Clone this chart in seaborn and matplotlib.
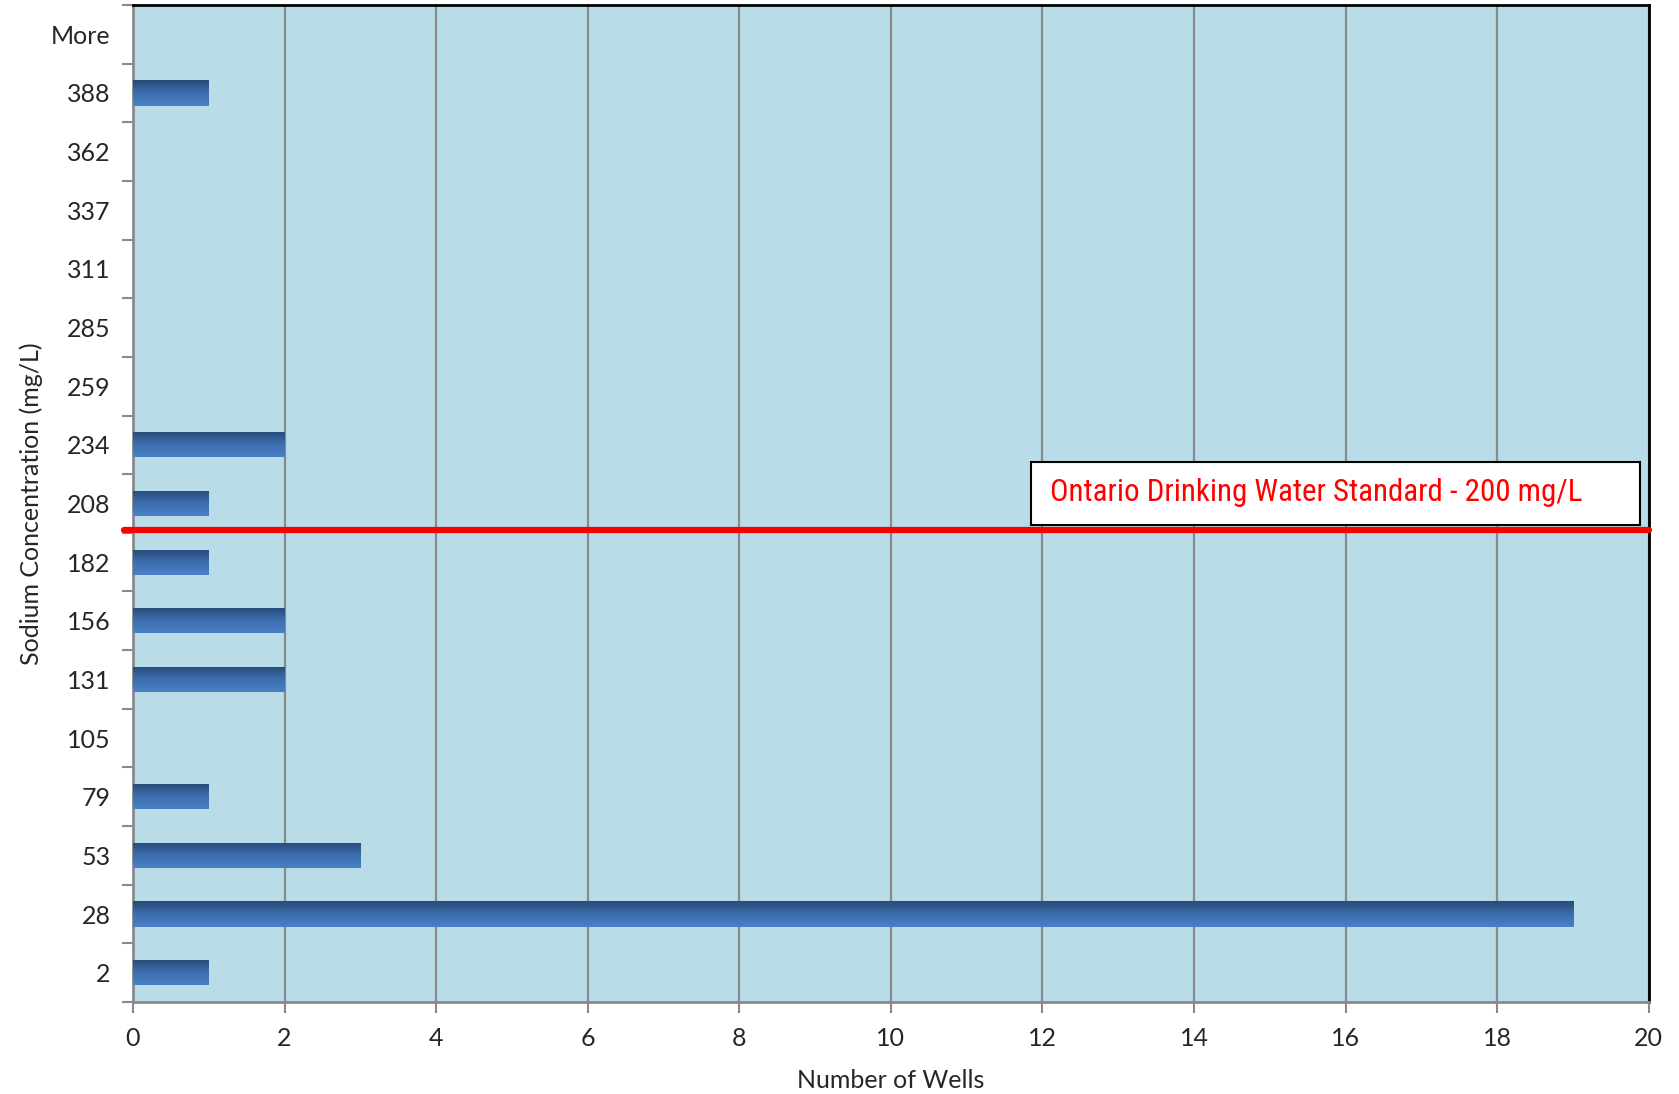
import numpy as np
import pandas as pd
import seaborn as sns
import matplotlib.pyplot as plt
from matplotlib.colors import LinearSegmentedColormap
from matplotlib.patches import Rectangle

# histogram bins (upper edge, mg/L) and well counts
bins = ["2", "28", "53", "79", "105", "131", "156", "182", "208",
        "234", "259", "285", "311", "337", "362", "388", "More"]
wells = [1, 19, 3, 1, 0, 2, 2, 1, 1, 2, 0, 0, 0, 0, 0, 1, 0]
x_ticks = list(range(0, 21, 2))
standard_label = "Ontario Drinking Water Standard - 200 mg/L"

df = pd.DataFrame({"bin": bins, "wells": wells})

sns.set_theme(style="white")
plt.rcParams["font.family"] = ["Lato", "DejaVu Sans"]

fig = plt.figure(figsize=(16.79, 10.94), dpi=100)
ax = fig.add_axes([0.0792, 0.0841, 0.9028, 0.9113])
ax.set_facecolor("#b8dde8")

order = bins[::-1]
sns.barplot(data=df, x="wells", y="bin", order=order, orient="h",
            color="#3a6aa8", width=0.43, ax=ax, zorder=3)

# gradient fill on each bar (dark top -> lighter bottom)
cmap = LinearSegmentedColormap.from_list("bar", ["#284a78", "#3c6eae", "#4a80c6"])
grad = np.linspace(0, 1, 64).reshape(-1, 1)
for p in ax.patches:
    p.set_facecolor("none")
    p.set_edgecolor("none")
    p.set_linewidth(0)
    w = p.get_width()
    if w <= 0:
        continue
    x0, y0 = p.get_x(), p.get_y()
    h = p.get_height()
    im = ax.imshow(grad, cmap=cmap, aspect="auto", zorder=4,
                   extent=[x0, x0 + w, y0 + h, y0], origin="upper")
    im.set_clip_path(p)

ax.set_xlim(0, 20)
ax.set_ylim(len(bins) - 0.5, -0.5)
ax.set_xticks(x_ticks)
ax.set_yticks(np.arange(-0.5, len(bins), 1), minor=True)

ax.grid(axis="x", color="#8a8a8a", linewidth=1.6, zorder=1)
ax.set_axisbelow(True)

ax.tick_params(axis="x", which="major", direction="out", length=8,
               width=1.5, color="#8a8a8a", labelsize=18, pad=10, bottom=True)
ax.tick_params(axis="y", which="major", length=0, labelsize=18, pad=16)
ax.tick_params(axis="y", which="minor", direction="out", length=8,
               width=1.5, color="#8a8a8a", left=True)

for side in ["left", "bottom"]:
    ax.spines[side].set_color("#8a8a8a")
    ax.spines[side].set_linewidth(2)
for side in ["top", "right"]:
    ax.spines[side].set_color("black")
    ax.spines[side].set_linewidth(2)
    ax.spines[side].set_visible(True)

ax.set_xlabel("Number of Wells", fontsize=18, labelpad=14)
ax.set_ylabel("Sodium Concentration (mg/L)", fontsize=18, labelpad=6)

# drinking water standard line, between the 182 and 208 bins
std_y = order.index("208") + 0.45
ax.axhline(std_y, xmin=-0.006, xmax=1, color="#ff0000", linewidth=4.5,
           zorder=6, clip_on=False)
ax.add_patch(Rectangle((11.85, std_y - 1.16), 8.03, 1.07, facecolor="white",
                       edgecolor="black", linewidth=1.5, zorder=7))
ax.text(12.1, std_y - 0.64, standard_label, fontsize=22.3, color="#ff0000",
        family=["Liberation Sans Narrow", "DejaVu Sans Condensed", "Roboto Condensed", "Roboto"],
        va="center", ha="left", zorder=8)

fig.savefig("out.png", dpi=100)
